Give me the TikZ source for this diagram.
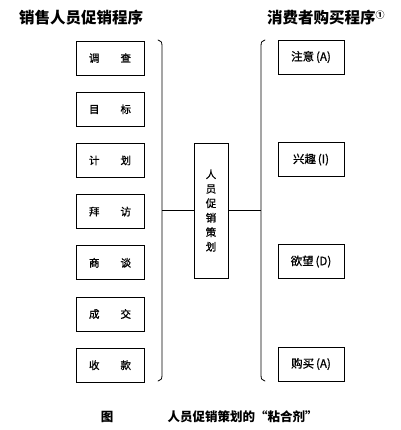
\documentclass[tikz,border=0pt]{standalone}
\usepackage{fontspec}
\setmainfont{Noto Sans CJK SC}
\newfontfamily\boxf[FakeBold=1]{Noto Sans CJK SC}
\begin{document}
\begin{tikzpicture}[x=1pt,y=-1pt,
  box/.style={draw,line width=0.8pt,minimum width=68pt,minimum height=34pt,inner sep=0pt,font=\boxf\fontsize{10.5}{12}\selectfont},
  rbox/.style={box,minimum width=66pt,font=\boxf\fontsize{11.5}{13}\selectfont},
  midbox/.style={draw,line width=0.8pt,minimum width=34pt,minimum height=135pt,inner sep=0pt,font=\boxf\fontsize{10.5}{14.5}\selectfont,align=center},
  brk/.style={line width=0.8pt,line cap=round},
  conn/.style={line width=0.8pt},
  title/.style={font=\fontsize{15.5}{18}\selectfont\bfseries,inner sep=0pt},
  captxt/.style={font=\fontsize{12.5}{14}\selectfont\bfseries,inner sep=0pt}]
\useasboundingbox (0,0) rectangle (400,430);
% titles
\node[title] (tl) at (81,17.5) {销售人员促销程序};
\node[title,anchor=west] (tr) at (267,18) {消费者购买程序\raisebox{0.6ex}{\fontsize{9}{10}\selectfont ①}};
% left boxes
\node[box] (b1) at (110,58) {调\hspace{2em}查};
\node[box] (b2) at (110,109.2) {目\hspace{2em}标};
\node[box] (b3) at (110,160.4) {计\hspace{2em}划};
\node[box] (b4) at (110,211.6) {拜\hspace{2em}访};
\node[box] (b5) at (110,262.8) {商\hspace{2em}谈};
\node[box] (b6) at (110,314) {成\hspace{2em}交};
\node[box] (b7) at (110,365.2) {收\hspace{2em}款};
% right boxes
\node[rbox] (r1) at (311,57) {注意\,(A)};
\node[rbox] (r2) at (311,159.5) {兴趣\,(I)};
\node[rbox] (r3) at (311,261.5) {欲望\,(D)};
\node[rbox] (r4) at (311,364) {购买\,(A)};
% middle box
\node[midbox] (m) at (211,210.5) {人\\员\\促\\销\\策\\划};
% brackets
\draw[brk] (158,40) .. controls (161,40.5) and (162,42) .. (162,46) -- (162,375) .. controls (162,379) and (161,380.5) .. (158,381);
\draw[brk] (265,40) .. controls (262,40.5) and (261,42) .. (261,46) -- (261,375) .. controls (261,379) and (262,380.5) .. (265,381);
\coordinate (lj) at (162,210.5);
\coordinate (rj) at (261,210.5);
\draw[conn] (m.west) -- (lj);
\draw[conn] (m.east) -- (rj);
% caption
\node[captxt] (c1) at (107,417) {图};
\node[captxt] (c2) at (242.5,417) {人员促销策划的“粘合剂”};
\end{tikzpicture}
\end{document}
